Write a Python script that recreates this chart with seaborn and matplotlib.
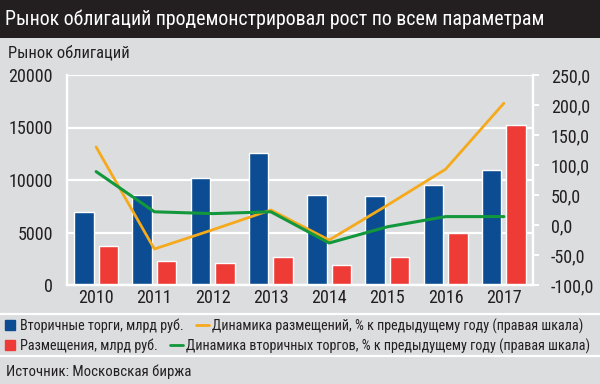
import pandas as pd
import seaborn as sns
import matplotlib.pyplot as plt
from matplotlib import font_manager
from matplotlib.lines import Line2D
from matplotlib.patches import Rectangle

# Data
years = ['2010', '2011', '2012', '2013', '2014', '2015', '2016', '2017']
secondary = [6980, 8600, 10220, 12540, 8600, 8450, 9500, 10950]    # млрд руб.
placements = [3750, 2300, 2100, 2650, 1950, 2650, 5000, 15250]     # млрд руб.
placements_growth = [130, -40, -8, 25, -25, 33, 93, 203]           # % (right axis)
secondary_growth = [89, 22, 19, 22, -30, -3, 14, 14]               # % (right axis)
right_ticks = [-100, -50, 0, 50, 100, 150, 200, 250]

BG = '#dcdddf'
BLUE = '#0b4c92'
RED = '#ee3b36'
ORANGE = '#f5aa1c'
GREEN = '#12973c'
INK = '#231f20'

sns.set_theme(style='white')
# condensed face like the original, whichever one is present
available = {f.name for f in font_manager.fontManager.ttflist}
narrow = [n for n in ['Roboto Condensed', 'PT Sans Narrow', 'Fira Sans Condensed',
                      'Archivo Narrow', 'Asap Condensed', 'Roboto'] if n in available]
plt.rcParams['font.family'] = narrow[:1] + ['DejaVu Sans']

df = pd.DataFrame({
    'year': years * 2,
    'value': secondary + placements,
    'series': ['secondary'] * 8 + ['placements'] * 8,
})

fig = plt.figure(figsize=(6, 3.84), dpi=100, facecolor=BG)
W, H = 600, 384

# dark title bar
fig.patches.append(Rectangle((0, 1 - 38 / H), 1, 38 / H, transform=fig.transFigure,
                             facecolor=INK, edgecolor='none', zorder=0))
fig.text(5 / W, 1 - 19 / H, 'Рынок облигаций продемонстрировал рост по всем параметрам',
         color='white', fontsize=14.3, va='center', ha='left')
fig.text(8 / W, 1 - 53 / H, 'Рынок облигаций', fontsize=11.9, va='center', ha='left',
         color=INK)

ax = fig.add_axes([67 / W, 1 - 285 / H, 466 / W, 210 / H])
ax.set_facecolor(BG)
sns.barplot(data=df, x='year', y='value', hue='series', palette=[BLUE, RED],
            width=0.84, gap=0.2, saturation=1, legend=False, ax=ax, zorder=2)
ax.set_ylim(0, 20000)
ax.set_xlim(-0.5, 7.5)
ax.set_yticks([0, 5000, 10000, 15000, 20000])
ax.set_xlabel('')
ax.set_ylabel('')
ax.yaxis.grid(True, color='white', lw=1.6)
ax.set_axisbelow(True)
ax.tick_params(axis='y', length=0, pad=10, labelsize=13, labelcolor=INK)
ax.tick_params(axis='x', length=0, pad=3, labelsize=13, labelcolor=INK)

ax2 = ax.twinx()
sns.lineplot(x=range(8), y=placements_growth, color=ORANGE, lw=2, ax=ax2)
sns.lineplot(x=range(8), y=secondary_growth, color=GREEN, lw=2.2, ax=ax2)
ax2.set_ylim(-100, 250)
ax2.set_xlim(-0.5, 7.5)
ax2.set_yticks(right_ticks)
ax2.set_yticklabels([f'{v:.1f}'.replace('.', ',') for v in right_ticks])
ax2.tick_params(axis='y', length=4, width=1.4, color='white', pad=9,
                labelsize=13, labelcolor=INK)

for a in (ax, ax2):
    a.spines['top'].set_visible(False)
    for side in ('left', 'right', 'bottom'):
        a.spines[side].set_color('white')
        a.spines[side].set_linewidth(1.6)

# separators
for yp in (314, 356):
    fig.add_artist(Line2D([0, 1], [1 - yp / H] * 2, color='white', lw=1.6,
                          transform=fig.transFigure))

# legend rows
sq = dict(marker='s', ls='', markersize=7.5)
row1 = [Line2D([], [], color=BLUE, **sq), Line2D([], [], color=ORANGE, lw=2)]
row2 = [Line2D([], [], color=RED, **sq), Line2D([], [], color=GREEN, lw=2)]
labels1 = ['Вторичные торги, млрд руб.',
           'Динамика размещений, % к предыдущему году (правая шкала)']
labels2 = ['Размещения, млрд руб.',
           'Динамика вторичных торгов, % к предыдущему году (правая шкала)']
for handles, labels, yp in ((row1, labels1, 326), (row2, labels2, 346)):
    fig.legend(handles, labels, ncol=2, loc='center left',
               bbox_to_anchor=(1 / W, 1 - yp / H), frameon=False, fontsize=10.2,
               handlelength=0.9, handletextpad=0.25, columnspacing=0.85,
               borderaxespad=0, borderpad=0.2, labelcolor=INK)

fig.text(6 / W, 1 - 372 / H, 'Источник: Московская биржа', fontsize=10.75,
         va='center', ha='left', color=INK)

plt.savefig('out.png', dpi=100, facecolor=BG)
